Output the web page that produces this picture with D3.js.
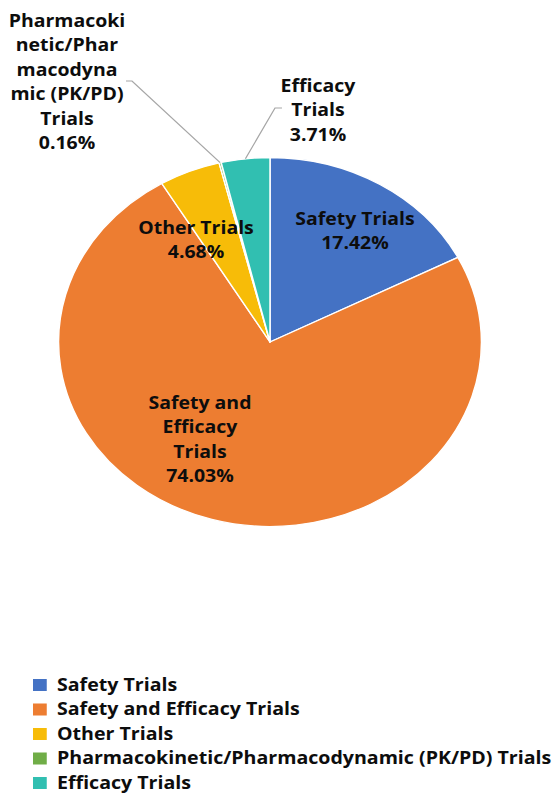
<!DOCTYPE html>
<html>
<head>
<meta charset="utf-8">
<script src="https://cdn.jsdelivr.net/npm/d3@7"></script>
<style>
  html, body { margin: 0; padding: 0; background: #fff; }
  svg { display: block; }
  text { font-family: "Open Sans", "DejaVu Sans", sans-serif; font-weight: 700; fill: #0d0d0d; }
</style>
</head>
<body>
<svg id="chart"></svg>
<script>
// ---- data ----
const categories = ["Safety Trials", "Safety and Efficacy Trials", "Other Trials",
  "Pharmacokinetic/Pharmacodynamic (PK/PD) Trials", "Efficacy Trials"];
const values = [17.42, 74.03, 4.68, 0.16, 3.71];
const labelLines = [
  ["Safety Trials", "17.42%"],
  ["Safety and", "Efficacy", "Trials", "74.03%"],
  ["Other Trials", "4.68%"],
  ["Pharmacoki", "netic/Phar", "macodyna", "mic (PK/PD)", "Trials", "0.16%"],
  ["Efficacy", "Trials", "3.71%"]
];
const colors = ["#4472C4", "#ED7D31", "#F7BC08", "#70AD47", "#31BFB1"];

// ---- layout (viewBox units; image is stretched horizontally) ----
const W = 555, H = 796, SX = 1.146;
const VW = W / SX;
const cx = 270 / SX, cy = 342, R = 184.5;
// label block centre x and first-line centre y
const labelPos = [
  [355 / SX, 219],
  [200 / SX, 403],
  [196 / SX, 228],
  [67 / SX, 21],
  [318 / SX, 86]
];
// leader line start points for outside labels
const leaders = { 3: [[126 / SX, 81], [132 / SX, 81]], 4: [[282 / SX, 108], [275 / SX, 108]] };
const lineH = 24.5, fontSize = 17;

const svg = d3.select("#chart")
  .attr("width", W).attr("height", H)
  .attr("viewBox", `0 0 ${VW} ${H}`)
  .attr("preserveAspectRatio", "none");

const data = categories.map((c, i) => ({ name: c, value: values[i], i }));
const pie = d3.pie().value(d => d.value).sort(null);
const arcs = pie(data);
const arc = d3.arc().innerRadius(0).outerRadius(R);

const g = svg.append("g").attr("transform", `translate(${cx},${cy})`);
g.selectAll("path").data(arcs).join("path")
  .attr("d", arc)
  .attr("fill", d => colors[d.data.i])
  .attr("stroke", "#fff")
  .attr("stroke-width", 1.3)
  .attr("stroke-linejoin", "round");

// leader lines
Object.keys(leaders).forEach(k => {
  const a = arcs[+k];
  const m = (a.startAngle + a.endAngle) / 2;
  const ex = cx + R * Math.sin(m), ey = cy - R * Math.cos(m);
  const pts = leaders[k].concat([[ex, ey]]);
  svg.append("path")
    .attr("d", d3.line()(pts))
    .attr("fill", "none")
    .attr("stroke", "#a6a6a6")
    .attr("stroke-width", 1.1);
});

// labels
labelLines.forEach((lines, i) => {
  const [x, y] = labelPos[i];
  const t = svg.append("text")
    .attr("text-anchor", "middle")
    .attr("font-size", fontSize);
  lines.forEach((ln, j) => {
    t.append("tspan").attr("x", x).attr("y", y + j * lineH).attr("dy", "0.35em").text(ln);
  });
});

// legend
const legend = svg.append("g");
const ly0 = 685, lstep = 24.5;
categories.forEach((c, i) => {
  const y = ly0 + i * lstep;
  legend.append("rect")
    .attr("x", 33 / SX).attr("y", y - 6).attr("width", 12).attr("height", 12)
    .attr("fill", colors[i]);
  legend.append("text")
    .attr("x", 57 / SX).attr("y", y).attr("dy", "0.35em")
    .attr("font-size", 17.1).text(c);
});
</script>
</body>
</html>
